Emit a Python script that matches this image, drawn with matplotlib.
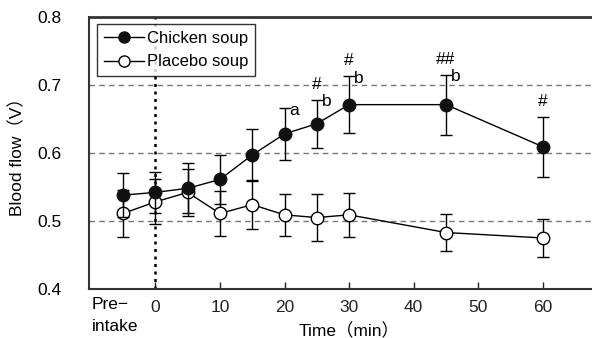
import matplotlib.pyplot as plt
from matplotlib.lines import Line2D

plt.rcParams['font.family'] = ['Liberation Sans', 'Noto Sans CJK JP', 'DejaVu Sans']

# time points (pre-intake plotted at -5)
t = [-5, 0, 5, 10, 15, 20, 25, 30, 45, 60]
chicken = [0.538, 0.542, 0.548, 0.561, 0.597, 0.628, 0.643, 0.671, 0.671, 0.609]
chicken_err = [0.032, 0.03, 0.037, 0.036, 0.038, 0.038, 0.035, 0.042, 0.044, 0.044]
placebo = [0.511, 0.528, 0.542, 0.511, 0.524, 0.509, 0.505, 0.509, 0.483, 0.475]
placebo_err = [0.034, 0.033, 0.035, 0.033, 0.036, 0.031, 0.034, 0.032, 0.027, 0.028]

# significance marks on chicken soup
letters = {20: 'a', 25: 'b', 30: 'b', 45: 'b'}
hashes = {25: '#', 30: '#', 45: '##', 60: '#'}

xticks = [0, 10, 20, 30, 40, 50, 60]

fig = plt.figure(figsize=(5.92, 3.38), dpi=100)
ax = fig.add_axes([0.151, 0.145, 0.86, 0.805])

for y in [0.5, 0.6, 0.7]:
  ax.axhline(y, color='#777777', ls=(0, (4, 3)), lw=1, zorder=0)
ax.axvline(0, color='black', ls=(0, (1.2, 1.8)), lw=1.8, zorder=1)

ax.errorbar(t, placebo, yerr=placebo_err, color='black', lw=1, capsize=4,
            elinewidth=1, capthick=1, marker='o', ms=9, mfc='white',
            mec='black', mew=1, zorder=3)
ax.errorbar(t, chicken, yerr=chicken_err, color='black', lw=1, capsize=4,
            elinewidth=1, capthick=1, marker='o', ms=9, mfc='#111111',
            mec='#111111', zorder=4)

for k, s in letters.items():
  i = t.index(k)
  ax.text(k + 0.8, chicken[i] + chicken_err[i] - 0.003, s, fontsize=12.5,
          ha='left', va='center')
for k, s in hashes.items():
  i = t.index(k)
  ax.text(k, chicken[i] + chicken_err[i] + 0.012, s, fontsize=12.5,
          ha='center', va='bottom')

ax.set_xlim(-10.2, 68.6)
ax.set_ylim(0.4, 0.8)
ax.set_yticks([0.4, 0.5, 0.6, 0.7, 0.8])
ax.set_yticklabels(['0.4', '0.5', '0.6', '0.7', '0.8'], fontsize=12.5)
ax.set_xticks(xticks)
ax.set_xticklabels([str(v) for v in xticks], fontsize=12.5)
ax.tick_params(axis='x', direction='in', length=5, width=1, pad=8, colors='#222222')
ax.tick_params(axis='y', length=0, pad=20)
ax.text(-9.8, 0.388, 'Pre−\nintake', fontsize=12.5, ha='left', va='top',
        linespacing=1.6)

ax.set_ylabel('Blood flow（V）', fontsize=12.5, labelpad=9)
ax.set_xlabel('Time（min）', fontsize=12.5)
ax.xaxis.set_label_coords(0.51, -0.125)

for side in ['left', 'bottom', 'top']:
  ax.spines[side].set_color('#333333')
  ax.spines[side].set_linewidth(1.5)
ax.spines['top'].set_linewidth(2)
ax.spines['right'].set_visible(False)

handles = [
  Line2D([], [], color='black', lw=1, marker='o', ms=8, mfc='#111111', mec='#111111'),
  Line2D([], [], color='black', lw=1, marker='o', ms=8, mfc='white', mec='black'),
]
leg = ax.legend(handles, ['Chicken soup', 'Placebo soup'], loc='upper left',
                fontsize=12, frameon=True, fancybox=False, edgecolor='black',
                handlelength=2.4, borderaxespad=0.45, borderpad=0.4,
                handletextpad=0.2, labelspacing=0.5)
leg.get_frame().set_linewidth(1)

fig.savefig('out.png', dpi=100)
